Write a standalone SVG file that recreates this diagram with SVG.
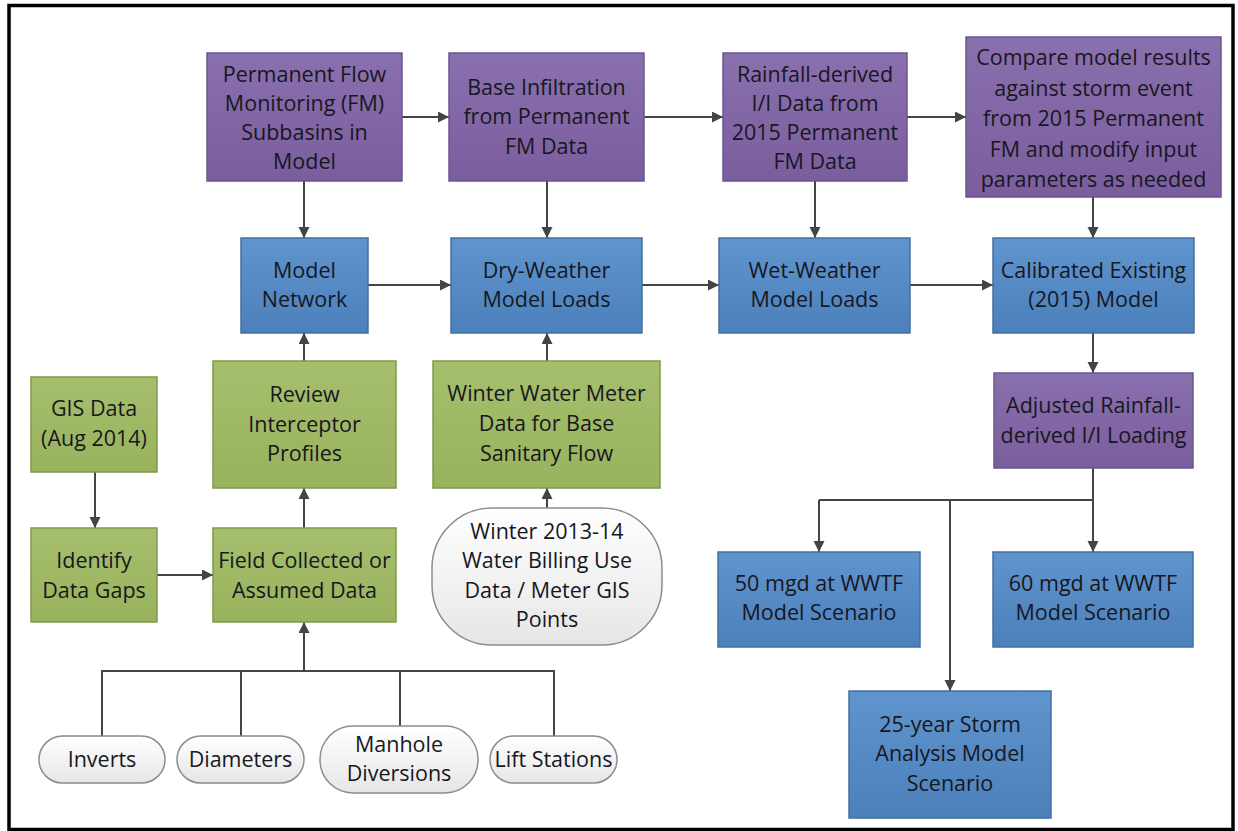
<svg xmlns="http://www.w3.org/2000/svg" width="1238" height="831" viewBox="0 0 1238 831">
<style>
text{font-family:"Open Sans","Noto Sans","Liberation Sans",sans-serif;font-size:21.5px;fill:#17171f;text-anchor:middle}
.p{fill:url(#gp);stroke:#6b5590;stroke-width:1.5}
.b{fill:url(#gb);stroke:#41709f;stroke-width:1.5}
.g{fill:url(#gg);stroke:#7f9a4a;stroke-width:1.5}
.w{fill:url(#gw);stroke:#8c8c8c;stroke-width:1.5}
.c{fill:none;stroke:#444;stroke-width:2}
.a{marker-end:url(#ar)}
</style>
<defs>
<linearGradient id="gp" x1="0" y1="0" x2="0" y2="1"><stop offset="0" stop-color="#8a70ae"/><stop offset="1" stop-color="#7a5d9d"/></linearGradient>
<linearGradient id="gb" x1="0" y1="0" x2="0" y2="1"><stop offset="0" stop-color="#5f94cd"/><stop offset="1" stop-color="#4b80bb"/></linearGradient>
<linearGradient id="gg" x1="0" y1="0" x2="0" y2="1"><stop offset="0" stop-color="#a6bf6d"/><stop offset="1" stop-color="#98b25d"/></linearGradient>
<linearGradient id="gw" x1="0" y1="0" x2="0" y2="1"><stop offset="0" stop-color="#ffffff"/><stop offset="1" stop-color="#e6e6e6"/></linearGradient>
<marker id="ar" markerUnits="userSpaceOnUse" markerWidth="12" markerHeight="12" refX="11" refY="5.5" orient="auto"><path d="M0,0 L11,5.5 L0,11 z" fill="#444"/></marker>
</defs>
<rect x="0" y="0" width="1238" height="831" fill="#fff"/>
<rect x="9" y="5.5" width="1224" height="824" fill="none" stroke="#000" stroke-width="3.5"/>

<g id="connectors">
<line class="c a" x1="402" y1="117" x2="449" y2="117"/>
<line class="c a" x1="644" y1="117" x2="723" y2="117"/>
<line class="c a" x1="907" y1="117" x2="966" y2="117"/>
<line class="c a" x1="304" y1="181" x2="304" y2="238"/>
<line class="c a" x1="547" y1="181" x2="547" y2="238"/>
<line class="c a" x1="815" y1="181" x2="815" y2="238"/>
<line class="c a" x1="1093" y1="197" x2="1093" y2="238"/>
<line class="c a" x1="368" y1="285" x2="451" y2="285"/>
<line class="c a" x1="642" y1="285" x2="719" y2="285"/>
<line class="c a" x1="910" y1="285" x2="993" y2="285"/>
<line class="c a" x1="1093" y1="333" x2="1093" y2="373"/>
<path class="c" d="M1093,468 V500 H819"/>
<line class="c a" x1="819" y1="500" x2="819" y2="552"/>
<line class="c a" x1="1093" y1="500" x2="1093" y2="552"/>
<line class="c a" x1="950" y1="500" x2="950" y2="691"/>
<line class="c a" x1="304" y1="361" x2="304" y2="333"/>
<line class="c a" x1="547" y1="361" x2="547" y2="333"/>
<line class="c a" x1="547" y1="508" x2="547" y2="488"/>
<line class="c a" x1="95" y1="472" x2="95" y2="528"/>
<line class="c a" x1="157" y1="575" x2="213" y2="575"/>
<line class="c a" x1="304" y1="528" x2="304" y2="488"/>
<path class="c" d="M102,736 V671 H554 V736 M241,736 V671 M400,726 V671"/>
<line class="c a" x1="304" y1="671" x2="304" y2="622"/>
</g>

<g id="n-permanent-fm">
<rect class="p" x="207" y="53" width="195" height="128"/>
<text x="304.5" y="82">Permanent Flow</text>
<text x="304.5" y="111">Monitoring (FM)</text>
<text x="304.5" y="140">Subbasins in</text>
<text x="304.5" y="169">Model</text>
</g>
<g id="n-base-infiltration">
<rect class="p" x="449" y="53" width="195" height="128"/>
<text x="546.5" y="95">Base Infiltration</text>
<text x="546.5" y="124">from Permanent</text>
<text x="546.5" y="154">FM Data</text>
</g>
<g id="n-rdii-data">
<rect class="p" x="723" y="53" width="184" height="128"/>
<text x="815" y="82">Rainfall-derived</text>
<text x="815" y="111">I/I Data from</text>
<text x="815" y="140">2015 Permanent</text>
<text x="815" y="169">FM Data</text>
</g>
<g id="n-compare">
<rect class="p" x="966" y="37" width="255" height="160"/>
<text x="1093.5" y="65">Compare model results</text>
<text x="1093.5" y="95.5">against storm event</text>
<text x="1093.5" y="126">from 2015 Permanent</text>
<text x="1093.5" y="156.5">FM and modify input</text>
<text x="1093.5" y="187">parameters as needed</text>
</g>

<g id="n-model-network">
<rect class="b" x="241" y="238" width="127" height="95"/>
<text x="304.5" y="278">Model</text>
<text x="304.5" y="307">Network</text>
</g>
<g id="n-dry-weather">
<rect class="b" x="451" y="238" width="191" height="95"/>
<text x="546.5" y="278">Dry-Weather</text>
<text x="546.5" y="307">Model Loads</text>
</g>
<g id="n-wet-weather">
<rect class="b" x="719" y="238" width="191" height="95"/>
<text x="814.5" y="278">Wet-Weather</text>
<text x="814.5" y="307">Model Loads</text>
</g>
<g id="n-calibrated">
<rect class="b" x="993" y="238" width="201" height="95"/>
<text x="1093.5" y="278">Calibrated Existing</text>
<text x="1093.5" y="307">(2015) Model</text>
</g>
<g id="n-adjusted">
<rect class="p" x="994" y="373" width="199" height="95"/>
<text x="1093.5" y="413">Adjusted Rainfall-</text>
<text x="1093.5" y="443">derived I/I Loading</text>
</g>
<g id="n-50mgd">
<rect class="b" x="718" y="552" width="202" height="95"/>
<text x="819" y="591">50 mgd at WWTF</text>
<text x="819" y="620">Model Scenario</text>
</g>
<g id="n-60mgd">
<rect class="b" x="993" y="552" width="200" height="95"/>
<text x="1093" y="591">60 mgd at WWTF</text>
<text x="1093" y="620">Model Scenario</text>
</g>
<g id="n-25year">
<rect class="b" x="849" y="691" width="202" height="127"/>
<text x="950" y="732">25-year Storm</text>
<text x="950" y="761">Analysis Model</text>
<text x="950" y="791">Scenario</text>
</g>

<g id="n-gis">
<rect class="g" x="31" y="377" width="126" height="95"/>
<text x="94" y="416">GIS Data</text>
<text x="94" y="446">(Aug 2014)</text>
</g>
<g id="n-review">
<rect class="g" x="213" y="361" width="183" height="127"/>
<text x="304.5" y="402">Review</text>
<text x="304.5" y="432">Interceptor</text>
<text x="304.5" y="461">Profiles</text>
</g>
<g id="n-winter-meter">
<rect class="g" x="433" y="361" width="227" height="127"/>
<text x="546.5" y="401">Winter Water Meter</text>
<text x="546.5" y="431">Data for Base</text>
<text x="546.5" y="461">Sanitary Flow</text>
</g>
<g id="n-identify">
<rect class="g" x="31" y="528" width="126" height="94"/>
<text x="94" y="568">Identify</text>
<text x="94" y="598">Data Gaps</text>
</g>
<g id="n-field">
<rect class="g" x="213" y="528" width="183" height="94"/>
<text x="304.5" y="568">Field Collected or</text>
<text x="304.5" y="598">Assumed Data</text>
</g>
<g id="n-winter-billing">
<rect class="w" x="432" y="508" width="230" height="137" rx="60" ry="60"/>
<text x="547" y="539">Winter 2013-14</text>
<text x="547" y="568">Water Billing Use</text>
<text x="547" y="598">Data / Meter GIS</text>
<text x="547" y="627">Points</text>
</g>

<g id="n-inverts">
<rect class="w" x="39" y="736" width="126" height="47" rx="23.5"/>
<text x="102" y="767">Inverts</text>
</g>
<g id="n-diameters">
<rect class="w" x="177" y="736" width="127" height="47" rx="23.5"/>
<text x="240.5" y="767">Diameters</text>
</g>
<g id="n-manhole">
<rect class="w" x="320" y="726" width="158" height="67" rx="33"/>
<text x="399" y="752">Manhole</text>
<text x="399" y="781">Diversions</text>
</g>
<g id="n-lift">
<rect class="w" x="490" y="736" width="127" height="47" rx="23.5"/>
<text x="553.5" y="767">Lift Stations</text>
</g>
</svg>
